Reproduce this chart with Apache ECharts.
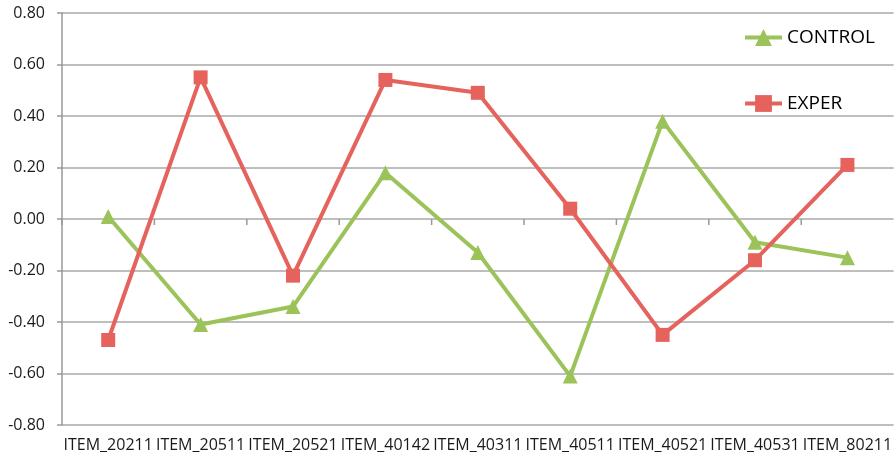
<!DOCTYPE html>
<html>
<head>
<meta charset="utf-8">
<script src="https://cdn.jsdelivr.net/npm/echarts@6/dist/echarts.min.js"></script>
<style>html,body{margin:0;padding:0;background:#fff}#c{width:895px;height:459px}</style>
</head>
<body>
<div id="c"></div>
<script>
const categories = ['ITEM_20211','ITEM_20511','ITEM_20521','ITEM_40142','ITEM_40311','ITEM_40511','ITEM_40521','ITEM_40531','ITEM_80211'];
const control = [0.01, -0.41, -0.34, 0.18, -0.13, -0.61, 0.38, -0.09, -0.15];
const exper = [-0.47, 0.55, -0.22, 0.54, 0.49, 0.04, -0.45, -0.16, 0.21];
const seriesNames = ['CONTROL', 'EXPER'];
const yMin = -0.8, yMax = 0.8, yStep = 0.2;

const FONT = '"Open Sans", sans-serif';
const AXIS_GREY = '#999999';
const chart = echarts.init(document.getElementById('c'), null, {renderer: 'canvas'});
chart.setOption({
  animation: false,
  backgroundColor: '#fff',
  grid: {left: 62, right: 0, top: 13, bottom: 34, containLabel: false},
  legend: {
    orient: 'vertical', left: 743, top: 28, padding: 0,
    itemWidth: 37, itemHeight: 21, itemGap: 47,
    lineStyle: {width: 4},
    textStyle: {fontFamily: FONT, fontSize: 19, color: '#000'},
    data: seriesNames
  },
  xAxis: {
    type: 'category', data: categories, boundaryGap: true,
    axisLine: {show: false, onZero: false}, axisTick: {show: false},
    axisLabel: {fontFamily: FONT, fontSize: 16, color: '#1a1a1a', margin: 12, interval: 0}
  },
  yAxis: {
    type: 'value', min: yMin, max: yMax, interval: yStep,
    axisLine: {show: true, lineStyle: {color: AXIS_GREY, width: 1.5}},
    axisTick: {show: true, length: 5, lineStyle: {color: AXIS_GREY, width: 1.5}},
    splitLine: {show: true, lineStyle: {color: '#A8A8A8', width: 1.5}},
    axisLabel: {fontFamily: FONT, fontSize: 16, color: '#1a1a1a', margin: 17,
      formatter: v => v.toFixed(2)}
  },
  series: [{
    // category-boundary tick marks hanging from the zero line
    type: 'custom', name: 'ticks', silent: true, z: 5, clip: false,
    encode: {x: 0, y: 1},
    data: categories.map((c, i) => [i, 0]),
    renderItem: function (params, api) {
      const p = api.coord([api.value(0), api.value(1)]);
      const bw = api.size([1, 0])[0];
      const x = p[0] - bw / 2;
      return {
        type: 'line',
        shape: {x1: x, y1: p[1], x2: x, y2: p[1] + 6},
        style: {stroke: AXIS_GREY, lineWidth: 1.5}
      };
    }
  }, {
    name: seriesNames[0], type: 'line', data: control, z: 2,
    symbol: 'triangle', symbolSize: 15,
    lineStyle: {color: '#9BC35A', width: 4}, itemStyle: {color: '#9BC35A'}
  }, {
    name: seriesNames[1], type: 'line', data: exper, z: 3,
    symbol: 'rect', symbolSize: 14,
    lineStyle: {color: '#E5625D', width: 4}, itemStyle: {color: '#E5625D'}
  }]
});
</script>
</body>
</html>
